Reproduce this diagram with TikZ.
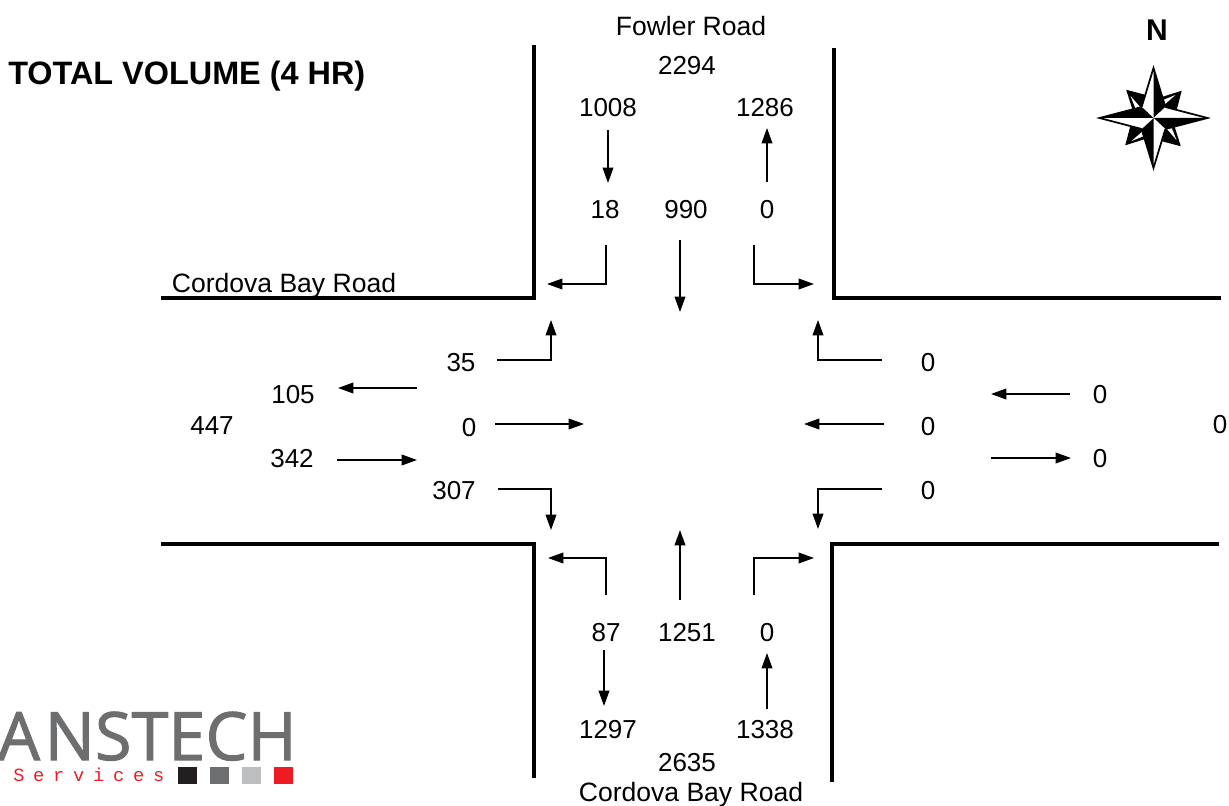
\documentclass[tikz,border=0pt]{standalone}
\usepackage{fontspec}
\setmainfont{Liberation Sans}
\newfontfamily\logofont[FakeBold=1.5]{Open Sans}
\newfontfamily\subfont[LetterSpace=47]{Liberation Mono}
\usetikzlibrary{arrows.meta}
\definecolor{LogoG}{RGB}{109,110,112}
\definecolor{LogoK}{RGB}{35,31,32}
\definecolor{LogoL}{RGB}{188,190,192}
\definecolor{LogoR}{RGB}{237,28,36}

\begin{document}
\begin{tikzpicture}[
  x=0.75pt, y=-0.75pt,
  road/.style={line width=3pt, miter limit=10},
  move/.style={line width=1.1pt, -{Triangle[length=11.5pt,width=8pt]}},
  vol/.style={font=\fontsize{19.5}{22}\selectfont, inner sep=0pt, yshift=-0.4pt},
  roadname/.style={font=\fontsize{19.9}{22}\selectfont, inner sep=0pt},
  head/.style={font=\fontsize{22.5}{26}\selectfont\bfseries, inner sep=0pt}
]
\useasboundingbox (0,0) rectangle (1229,806);

% Road edges
\draw[road] (534,45) -- (534,298) -- (161,298);
\draw[road] (834,48) -- (834,298) -- (1221,298);
\draw[road] (161,544) -- (534,544) -- (534,778);
\draw[road] (1219,544) -- (832,544) -- (832,782);

% Titles
\node[head, font=\fontsize{24.3}{28}\selectfont\bfseries, anchor=west] (title) at (8,76) {TOTAL VOLUME (4 HR)};
\node[head] (north) at (1157,30) {N};
\node[roadname] (nameN) at (691,26) {Fowler Road};
\node[roadname] (nameW) at (284,286) {Cordova Bay Road};
\node[roadname] (nameS) at (691,795) {Cordova Bay Road};

% North leg
\node[vol] (totN) at (687,65) {2294};
\node[vol] (outN) at (608,107) {1008};
\node[vol] (inN) at (765,107) {1286};
\node[vol] (nR) at (605,209) {18};
\node[vol] (nT) at (686,209) {990};
\node[vol] (nL) at (767,209) {0};
\draw[move] (608,130) -- (608,183);
\draw[move] (767,182) -- (767,128);
\draw[move] (606,245) -- (606,284) -- (547,284);
\draw[move] (680,240) -- (680,312);
\draw[move] (754,245) -- (754,284) -- (814,284);

% West leg
\node[vol] (totW) at (212,425) {447};
\node[vol] (outW) at (293,394) {105};
\node[vol] (inW) at (292,458) {342};
\node[vol] (wL) at (461,362) {35};
\node[vol] (wT) at (469,427) {0};
\node[vol] (wR) at (454,490) {307};
\draw[move] (417,388) -- (338,388);
\draw[move] (337,460) -- (417,460);
\draw[move] (497,360) -- (551,360) -- (551,320);
\draw[move] (495,424) -- (584,424);
\draw[move] (498,489) -- (551,489) -- (551,530);

% East leg
\node[vol] (totE) at (1220,424) {0};
\node[vol] (inE) at (1100,394) {0};
\node[vol] (outE) at (1100,458) {0};
\node[vol] (eR) at (928,362) {0};
\node[vol] (eT) at (928,426) {0};
\node[vol] (eL) at (928,490) {0};
\draw[move] (1070,394) -- (991,394);
\draw[move] (991,458) -- (1071,458);
\draw[move] (882,360) -- (818,360) -- (818,320);
\draw[move] (884,424) -- (804,424);
\draw[move] (882,489) -- (818,489) -- (818,529);

% South leg
\node[vol] (totS) at (687,762) {2635};
\node[vol] (outS) at (608,729) {1297};
\node[vol] (inS) at (765,729) {1338};
\node[vol] (sL) at (606,632) {87};
\node[vol] (sT) at (687,632) {1251};
\node[vol] (sR) at (767,632) {0};
\draw[move] (604,650) -- (604,706);
\draw[move] (767,709) -- (767,653);
\draw[move] (606,595) -- (606,558) -- (548,558);
\draw[move] (680,600) -- (680,530);
\draw[move] (754,595) -- (754,558) -- (814,558);

% Compass
\begin{scope}[shift={(1153.5,118)}]
  \foreach \a in {0,90,180,270} {
    \begin{scope}[rotate=-\a]
      \filldraw[line width=1.3pt, line join=miter] (27,-26) -- (8,-20) -- (6,-6) -- (22,-7) -- cycle;
      \fill[white] (9.5,-18) -- (22,-23) -- (10.5,-13) -- cycle;
    \end{scope}
  }
  \begin{scope}[xscale=1.08]
  \foreach \a in {0,90,180,270} {
    \begin{scope}[rotate=-\a]
      \fill[white] (0,0) -- (-11,-11) -- (0,-50) -- cycle;
      \fill[black] (0,0) -- (11,-11) -- (0,-50) -- cycle;
      \draw[line width=1.3pt, line join=miter] (-11,-11) -- (0,-50) -- (11,-11);
    \end{scope}
  }
  \end{scope}
\end{scope}

% Logo
\node[anchor=base east, inner sep=0pt, text depth=0pt, text=LogoG, font=\logofont\fontsize{50}{50}\selectfont] (logoName) at (297,760) {A\kern3.5pt NSTECH};
\node[anchor=base west, inner sep=0pt, text=LogoR, font=\subfont\fontsize{14}{14}\selectfont] (logoSub) at (13,781) {Services};
\fill[LogoK] (178,767) rectangle (197,784);
\fill[LogoG] (210,767) rectangle (229,784);
\fill[LogoL] (242,767) rectangle (261,784);
\fill[LogoR] (274,767) rectangle (293,784);
\end{tikzpicture}
\end{document}
